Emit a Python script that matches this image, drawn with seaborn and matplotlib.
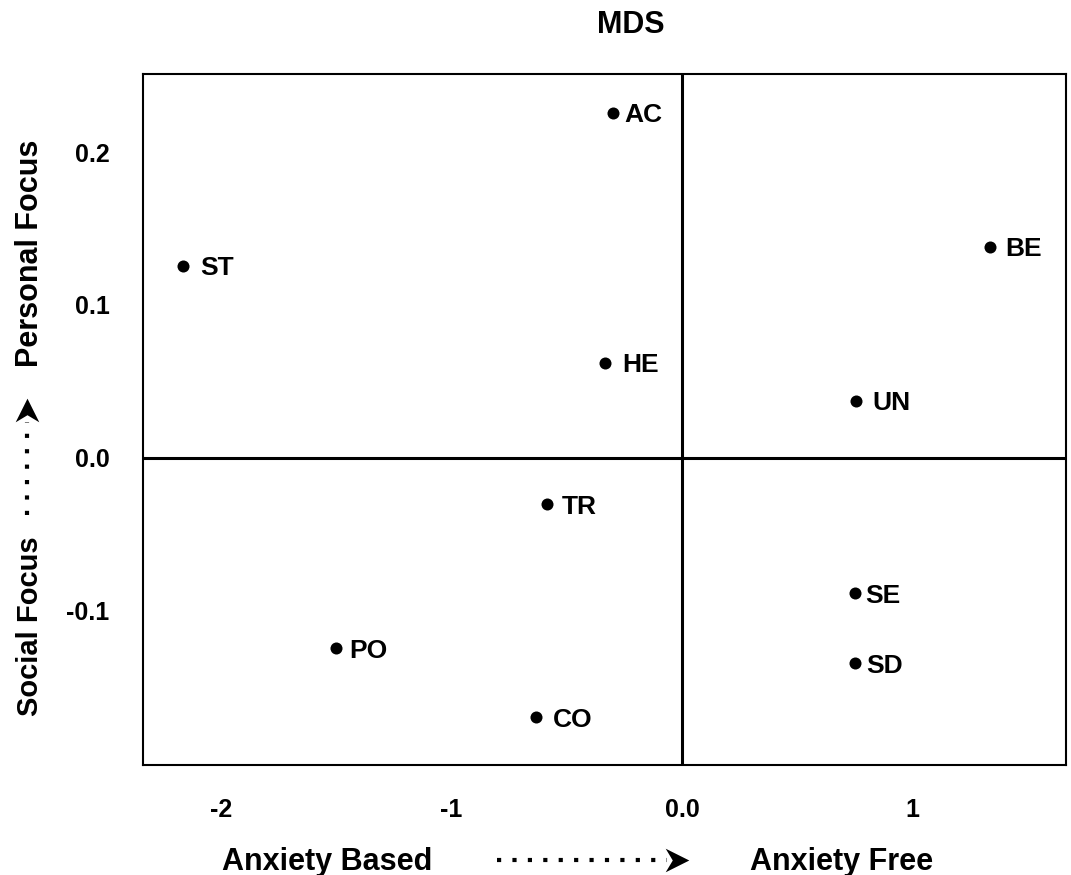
import matplotlib
matplotlib.use("Agg")
import matplotlib.pyplot as plt
from matplotlib.lines import Line2D
from matplotlib.path import Path
import seaborn as sns
import pandas as pd

# MDS coordinates
codes = ["AC", "ST", "BE", "HE", "UN", "TR", "SE", "SD", "PO", "CO"]
dim1 = [-0.301, -2.166, 1.336, -0.334, 0.754, -0.584, 0.751, 0.751, -1.502, -0.633]
dim2 = [0.2257, 0.1257, 0.1381, 0.0623, 0.0373, -0.0303, -0.0884, -0.1342, -0.1244, -0.1695]

xticks = [-2, -1, 0, 1]
xticklabels = ["-2", "-1", "0.0", "1"]
yticks = [0.2, 0.1, 0.0, -0.1]
yticklabels = ["0.2", "0.1", "0.0", "-0.1"]

df = pd.DataFrame({"code": codes, "dim1": dim1, "dim2": dim2})

sns.set_style("white")
plt.rcParams["font.family"] = ["Liberation Sans", "DejaVu Sans"]
plt.rcParams["font.weight"] = "bold"
plt.rcParams["text.color"] = "black"
plt.rcParams["axes.labelcolor"] = "black"
plt.rcParams["xtick.color"] = "black"
plt.rcParams["ytick.color"] = "black"

W, H = 1071, 875
fig = plt.figure(figsize=(W / 100, H / 100), dpi=100)
ax = fig.add_axes([143 / W, 1 - 765 / H, (1066 - 143) / W, (765 - 74) / H])

sns.scatterplot(data=df, x="dim1", y="dim2", ax=ax, color="black", s=75,
                linewidth=0, zorder=3, legend=False)

# label gap in pixels (dot centre to text), as in the picture
gap = {"AC": 12, "ST": 18, "BE": 15, "HE": 17, "UN": 17, "TR": 14,
       "SE": 10, "SD": 11, "PO": 14, "CO": 17}
for c, x, y in zip(codes, dim1, dim2):
    ax.annotate(c, (x, y), xytext=(gap[c] * 0.72, 0), textcoords="offset points",
                ha="left", va="center_baseline", fontsize=19, fontweight="bold",
                color="black")

ax.axhline(0, color="black", lw=2.2, zorder=1)
ax.axvline(0, color="black", lw=2.2, zorder=1)

ax.set_xlim(-2.338, 1.666)
ax.set_ylim(-0.2007, 0.251)
ax.set_xticks(xticks)
ax.set_xticklabels(xticklabels)
ax.set_yticks(yticks)
ax.set_yticklabels(yticklabels)
ax.tick_params(length=0, pad=24, labelsize=18, labelcolor="black")
for lab in ax.get_xticklabels() + ax.get_yticklabels():
    lab.set_fontweight("bold")
ax.set_xlabel("")
ax.set_ylabel("")
for sp in ax.spines.values():
    sp.set_color("black")
    sp.set_linewidth(1.5)

# title and axis captions
fig.text(631 / W, 1 - 25 / H, "MDS", ha="center", va="center", fontsize=22, fontweight="bold")
fig.text(327 / W, 1 - 870 / H, "Anxiety Based", ha="center", va="baseline", fontsize=22, fontweight="bold")
fig.text(842 / W, 1 - 870 / H, "Anxiety Free", ha="center", va="baseline", fontsize=22, fontweight="bold")
fig.text(30 / W, 1 - 253 / H, "Personal Focus", ha="center", va="center", rotation=90,
         fontsize=22, fontweight="bold")
fig.text(30 / W, 1 - 626 / H, "Social Focus", ha="center", va="center", rotation=90,
         fontsize=21, fontweight="bold")

# dotted arrows
dots = (0, (1, 2.7))
fig.add_artist(Line2D([497 / W, 667 / W], [1 - 860 / H, 1 - 860 / H], transform=fig.transFigure,
                      color="black", lw=3, linestyle=dots))
fig.add_artist(Line2D([27 / W, 27 / W], [1 - 515 / H, 1 - 422 / H], transform=fig.transFigure,
                      color="black", lw=3, linestyle=dots))
head_r = Path([(-1, -1), (1, 0), (-1, 1), (-0.4, 0), (-1, -1)],
              [Path.MOVETO, Path.LINETO, Path.LINETO, Path.LINETO, Path.CLOSEPOLY])
head_u = Path([(-1, -1), (0, 1), (1, -1), (0, -0.4), (-1, -1)],
              [Path.MOVETO, Path.LINETO, Path.LINETO, Path.LINETO, Path.CLOSEPOLY])
fig.add_artist(Line2D([676.5 / W], [1 - 860 / H], transform=fig.transFigure, marker=head_r,
                      markersize=17, color="black", markeredgewidth=0, linestyle="none"))
fig.add_artist(Line2D([27 / W], [1 - 410 / H], transform=fig.transFigure, marker=head_u,
                      markersize=17, color="black", markeredgewidth=0, linestyle="none"))

fig.savefig("out.png", dpi=100)
